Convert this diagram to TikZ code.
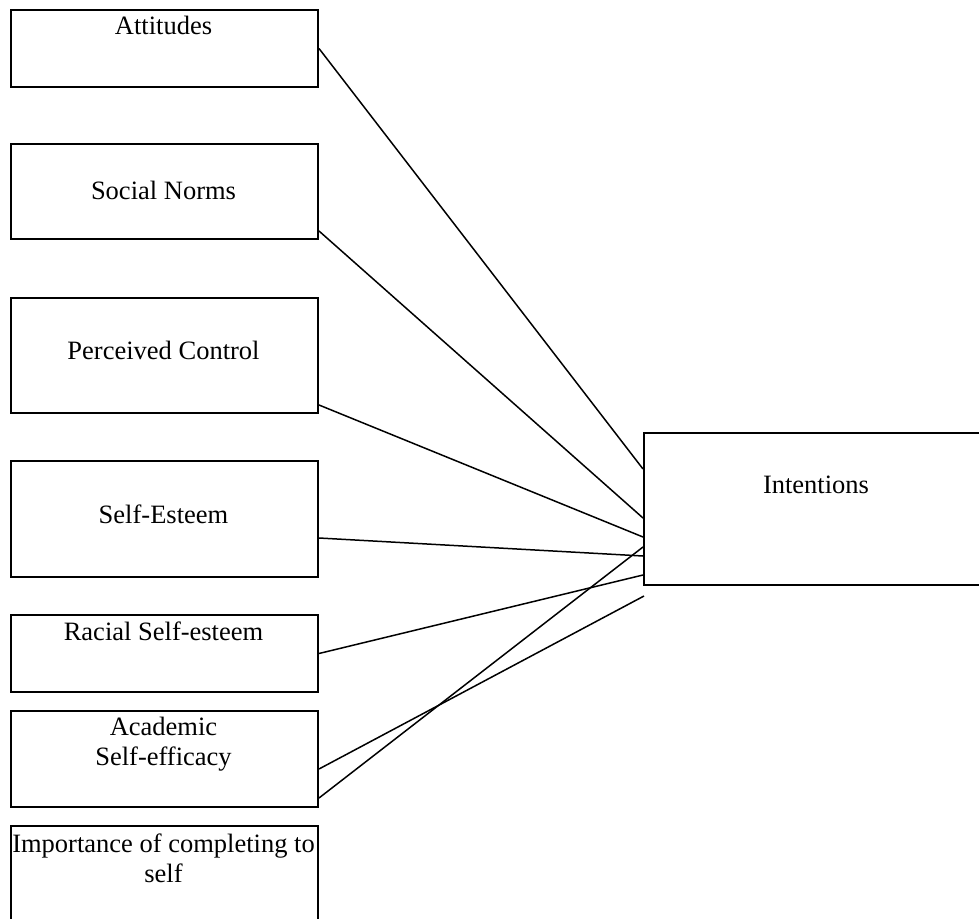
\documentclass[tikz,border=0pt]{standalone}
\usepackage{fontspec}
\setmainfont{Liberation Serif}
\usetikzlibrary{calc}
\tikzset{
  factor/.style={draw, line width=1pt, rectangle, inner sep=0pt,
    anchor=north west, minimum width=153.5pt},
  lbl/.style={anchor=base, align=center, inner sep=0pt,
    font=\fontsize{13.25pt}{15pt}\selectfont},
  link/.style={line width=0.75pt}
}
\begin{document}
\begin{tikzpicture}[x=0.5pt, y=-0.5pt]
      \useasboundingbox (0,0) rectangle (979,919);
      \clip (0,0) rectangle (979,919);
      % predictor boxes
      \node[factor, minimum height=38.5pt] (att) at (10,9) {};
      \node[factor, minimum height=47.5pt] (sn) at (10,143) {};
      \node[factor, minimum height=57.5pt] (pc) at (10,297) {};
      \node[factor, minimum height=58pt] (se) at (10,460) {};
      \node[factor, minimum height=38.5pt] (rs) at (10,614) {};
      \node[factor, minimum height=48pt] (as) at (10,710) {};
      \node[factor, minimum height=55pt] (ic) at (10,825) {};
      % outcome box
      \node[factor, minimum width=173pt, minimum height=76pt] (int) at (643,432) {};
      % texts (base = last line)
      \node[lbl] (attl) at (163.5,35) {Attitudes};
      \node[lbl] (snl) at (163.5,200) {Social Norms};
      \node[lbl] (pcl) at (163.5,360) {Perceived Control};
      \node[lbl] (sel) at (163.5,523) {Self-Esteem};
      \node[lbl] (rsl) at (163.5,640) {Racial Self-esteem};
      \node[lbl] (asl) at (163.5,765) {Academic\\Self-efficacy};
      \node[lbl] (icl) at (163.5,882) {Importance of completing to\\self};
      \node[lbl] (intl) at (816,493) {Intentions};
      \coordinate (loose) at ($(int.south west)+(1,10)$);
      \begin{scope}[link]
        \draw (att.east) -- ($(int.north west)+(0,37)$);
        \draw ($(sn.south east)+(0,-9)$) -- ($(int.north west)+(0,86)$);
        \draw ($(pc.south east)+(0,-9)$) -- ($(int.north west)+(0,105)$);
        \draw ($(se.east)+(0,19)$) -- ($(int.north west)+(0,124)$);
        \draw (rs.east) -- ($(int.north west)+(0,143)$);
        \draw ($(as.south east)+(0,-39)$) -- (loose);
        \draw ($(as.south east)+(0,-10)$) -- ($(int.north west)+(0,115)$);
      \end{scope}
    \end{tikzpicture}
\end{document}
